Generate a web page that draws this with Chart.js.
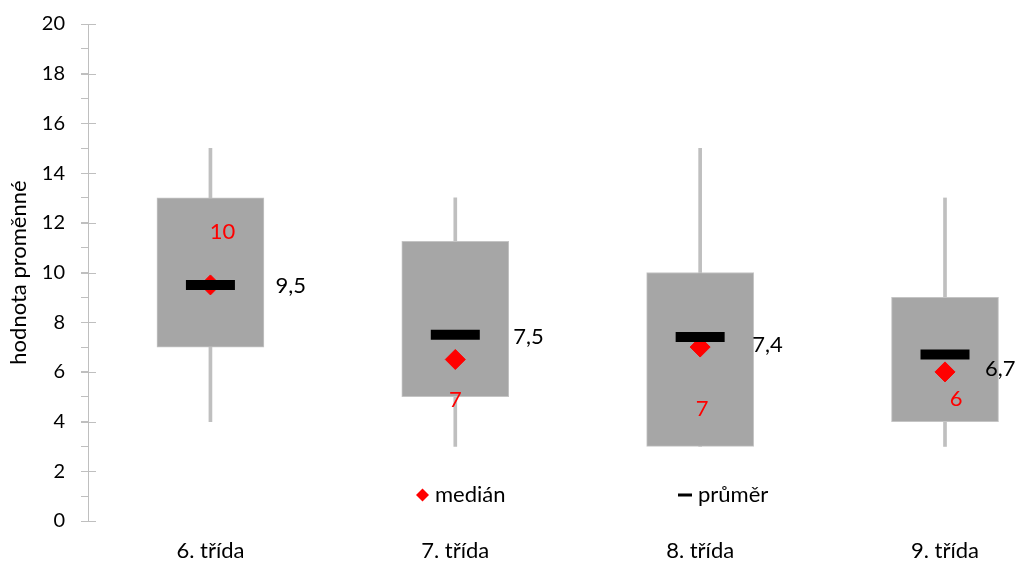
<!DOCTYPE html>
<html>
<head>
<meta charset="utf-8">
<script src="https://cdn.jsdelivr.net/npm/chart.js@4"></script>
<style>
  html, body { margin: 0; padding: 0; background: #fff; }
  #wrap { width: 1017px; height: 562px; position: relative; }
</style>
</head>
<body>
<div id="wrap"><canvas id="c"></canvas></div>
<script>
// ---- data ----
const categories = ['6. třída', '7. třída', '8. třída', '9. třída'];
const whiskerMin = [4, 3, 3, 3];
const whiskerMax = [15, 13, 15, 13];
const boxLow = [7, 5, 3, 4];
const boxHigh = [13, 11.25, 10, 9];
const medians = [9.5, 6.5, 7, 6];
const medianLabels = ['10', '7', '7', '6'];
const means = [9.5, 7.5, 7.4, 6.7];
const meanLabels = ['9,5', '7,5', '7,4', '6,7'];
const yTicks = [0, 2, 4, 6, 8, 10, 12, 14, 16, 18, 20];

// ---- layout of labels (pixel offsets from the marker) ----
const meanLabelOffsets = [[65, 1], [58, 2], [52, 8], [40, 14]];
const medianLabelOffsets = [[12, -53], [0, 40], [2, 62], [11, 27]];

const FONT = 'Lato';
const xs = categories.map((c, i) => i + 1);

const labelPlugin = {
  id: 'labels',
  afterDatasetsDraw(chart) {
    const ctx = chart.ctx;
    const xS = chart.scales.x, yS = chart.scales.y;
    ctx.save();
    ctx.font = '22px ' + FONT;
    ctx.textBaseline = 'middle';
    // mean labels
    ctx.fillStyle = '#000';
    ctx.textAlign = 'left';
    means.forEach((m, i) => {
      const px = xS.getPixelForValue(xs[i]) + meanLabelOffsets[i][0];
      const py = yS.getPixelForValue(m) + meanLabelOffsets[i][1];
      ctx.fillText(meanLabels[i], px, py);
    });
    // median labels
    ctx.fillStyle = '#ff0000';
    ctx.textAlign = 'center';
    medians.forEach((m, i) => {
      const px = xS.getPixelForValue(xs[i]) + medianLabelOffsets[i][0];
      const py = yS.getPixelForValue(m) + medianLabelOffsets[i][1];
      ctx.fillText(medianLabels[i], px, py);
    });
    // major ticks crossing the axis
    ctx.strokeStyle = '#bfbfbf';
    ctx.lineWidth = 1;
    const ax = chart.chartArea.left;
    yTicks.forEach(v => {
      const py = Math.round(yS.getPixelForValue(v)) + 0.5;
      ctx.beginPath();
      ctx.moveTo(ax - 7, py);
      ctx.lineTo(ax + 8, py);
      ctx.stroke();
    });
    // legend
    const ly = 495;
    ctx.fillStyle = '#ff0000';
    ctx.beginPath();
    ctx.moveTo(422.5 - 6.5, ly);
    ctx.lineTo(422.5, ly - 6.5);
    ctx.lineTo(422.5 + 6.5, ly);
    ctx.lineTo(422.5, ly + 6.5);
    ctx.closePath();
    ctx.fill();
    ctx.fillStyle = '#000';
    ctx.textAlign = 'left';
    ctx.fillText('medián', 435, ly);
    ctx.fillRect(678, ly - 1.5, 14, 3);
    ctx.fillText('průměr', 698, ly);
    ctx.restore();
  }
};

new Chart(document.getElementById('c'), {
  type: 'bar',
  data: {
    datasets: [
      {
        type: 'line', label: 'průměr', order: 1,
        data: xs.map((x, i) => ({ x, y: means[i] })),
        showLine: false, pointStyle: 'line', pointRadius: 24.5, pointHoverRadius: 24.5,
        pointBorderWidth: 10, pointHoverBorderWidth: 10,
        borderColor: '#000', backgroundColor: '#000'
      },
      {
        type: 'line', label: 'medián', order: 2,
        data: xs.map((x, i) => ({ x, y: medians[i] })),
        showLine: false, pointStyle: 'rectRot', pointRadius: 10, pointHoverRadius: 10,
        pointBorderWidth: 1, borderColor: '#ff0000', backgroundColor: '#ff0000'
      },
      {
        label: 'box', order: 3, grouped: false,
        data: xs.map((x, i) => ({ x, y: [boxLow[i], boxHigh[i]] })),
        backgroundColor: '#a6a6a6', borderColor: '#c4c4c4', borderWidth: 1,
        borderSkipped: false, barThickness: 107
      },
      {
        label: 'whisker', order: 4, grouped: false,
        data: xs.map((x, i) => ({ x, y: [whiskerMin[i], whiskerMax[i]] })),
        backgroundColor: '#bfbfbf', borderWidth: 0, barThickness: 3
      }
    ]
  },
  options: {
    responsive: true,
    maintainAspectRatio: false,
    animation: false,
    events: [],
    layout: { autoPadding: false, padding: { top: 24, right: 0, bottom: 0, left: 0 } },
    plugins: { legend: { display: false }, tooltip: { enabled: false } },
    scales: {
      x: {
        type: 'linear', min: 0.5, max: 4.294, offset: false,
        afterBuildTicks(scale) { scale.ticks = xs.map(v => ({ value: v })); },
        afterFit(scale) {
          scale.height = 41;
          scale.paddingLeft = 0; scale.paddingRight = 0;
          scale.paddingTop = 0; scale.paddingBottom = 0;
        },
        ticks: {
          autoSkip: false, maxRotation: 0, padding: 9,
          color: '#000', font: { family: FONT, size: 22 },
          callback: (v) => categories[Math.round(v) - 1] || ''
        },
        grid: { display: false },
        border: { display: false }
      },
      y: {
        min: 0, max: 20,
        afterFit(scale) {
          scale.width = 88;
          scale.paddingTop = 0; scale.paddingBottom = 0;
          scale.paddingLeft = 0; scale.paddingRight = 0;
        },
        ticks: {
          stepSize: 1, autoSkip: false, padding: 16,
          color: '#000', font: { family: FONT, size: 20 },
          callback: (v) => (v % 2 === 0 ? String(v) : '')
        },
        grid: { drawOnChartArea: false, tickLength: 7, color: '#bfbfbf', tickColor: '#bfbfbf' },
        border: { color: '#bfbfbf' },
        title: {
          display: true, text: 'hodnota proměnné', color: '#000',
          font: { family: FONT, size: 22 }, padding: { top: 6, bottom: 0 }
        }
      }
    }
  },
  plugins: [labelPlugin]
});
</script>
</body>
</html>
